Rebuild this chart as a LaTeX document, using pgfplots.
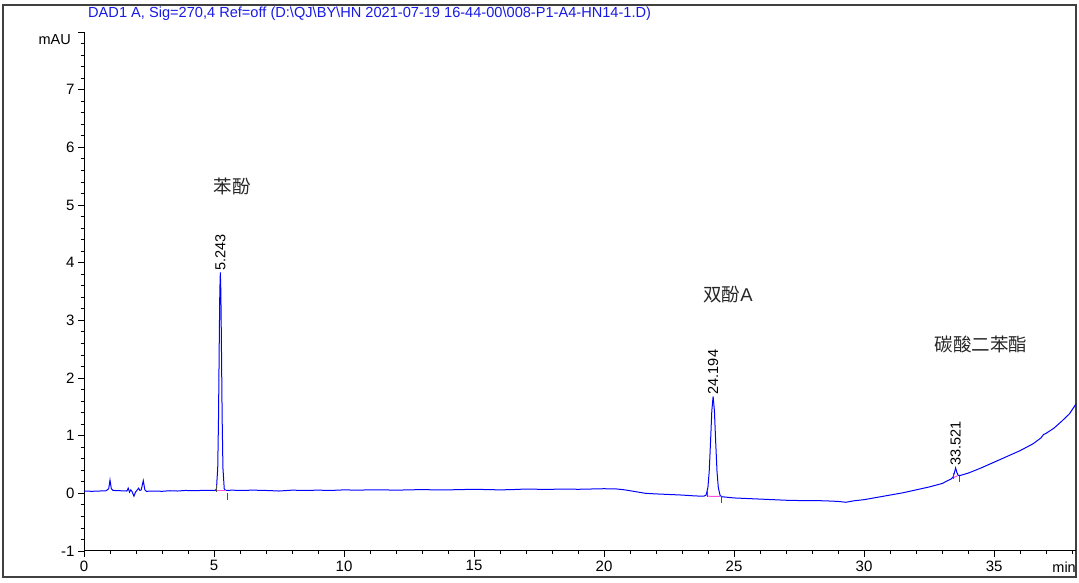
\documentclass[border=0pt]{standalone}
\usepackage{fontspec}
\setmainfont{Liberation Sans}
\newfontfamily\cjk{Noto Sans CJK SC}
\usepackage{pgfplots}
\pgfplotsset{compat=1.18}
\definecolor{titleblue}{RGB}{25,25,230}
\definecolor{trace}{RGB}{0,0,255}
\definecolor{intline}{RGB}{255,80,220}

\pgfplotstableread{
x y
0.0 0.04
0.3 0.035
0.6 0.04
0.85 0.045
0.95 0.08
1.0 0.23
1.05 0.08
1.12 0.05
1.4 0.045
1.65 0.04
1.7 0.09
1.75 0.02
1.8 0.06
1.85 0.03
1.92 -0.05
1.98 0.02
2.05 0.06
2.1 0.09
2.15 0.05
2.2 0.06
2.28 0.22
2.34 0.06
2.4 0.035
2.7 0.04
3.0 0.035
3.3 0.045
3.6 0.04
3.9 0.05
4.2 0.045
4.5 0.05
4.8 0.05
5.043 0.05
5.093 0.07
5.143 0.44
5.173 1.30
5.203 2.68
5.223 3.50
5.243 3.83
5.263 3.50
5.283 2.68
5.313 1.30
5.343 0.44
5.393 0.08
5.443 0.05
5.7 0.055
6.0 0.05
6.5 0.055
7.0 0.05
7.5 0.04
8.0 0.055
8.5 0.05
9.0 0.055
9.5 0.05
10.0 0.06
10.5 0.055
11.0 0.06
11.5 0.06
12.0 0.055
12.5 0.06
13.0 0.065
13.5 0.06
14.0 0.06
14.5 0.065
15.0 0.07
15.5 0.065
16.0 0.06
16.5 0.065
17.0 0.075
17.5 0.07
18.0 0.07
18.5 0.075
19.0 0.07
19.5 0.075
20.0 0.08
20.5 0.075
20.8 0.06
21.2 0.03
21.6 0.0
22.0 -0.01
22.5 -0.02
23.0 -0.03
23.5 -0.045
23.84 -0.05
23.924 -0.03
23.994 0.10
24.044 0.38
24.094 0.88
24.144 1.43
24.194 1.68
24.244 1.43
24.294 0.88
24.344 0.38
24.394 0.10
24.464 -0.04
24.55 -0.06
25.0 -0.08
25.5 -0.09
26.0 -0.10
26.5 -0.11
27.0 -0.12
27.5 -0.125
28.0 -0.125
28.5 -0.13
29.0 -0.14
29.3 -0.155
29.6 -0.13
30.0 -0.11
30.5 -0.07
31.0 -0.03
31.5 0.01
32.0 0.06
32.5 0.11
33.0 0.17
33.35 0.25
33.42 0.28
33.47 0.35
33.52 0.44
33.57 0.36
33.62 0.31
33.7 0.31
34.0 0.35
34.5 0.44
35.0 0.54
35.5 0.64
36.0 0.74
36.5 0.86
36.8 0.96
36.9 1.02
37.0 1.04
37.3 1.13
37.6 1.25
37.9 1.38
38.15 1.55
}\signal

\begin{document}
\begin{tikzpicture}[x=1pt,y=1pt]
\path (0,0) rectangle (1079,583);
\draw[black!75, line width=1.2pt] (3,6) rectangle (1076,578);
\node[anchor=west, inner sep=0, text=titleblue, font=\fontsize{14.6}{15}\selectfont]
  at (88,569) {DAD1 A, Sig=270,4 Ref=off (D:\textbackslash QJ\textbackslash BY\textbackslash HN 2021-07-19 16-44-00\textbackslash 008-P1-A4-HN14-1.D)};
\begin{axis}[
  at={(84pt,32pt)}, anchor=south west,
  scale only axis, width=992pt, height=519pt,
  xmin=0, xmax=38.15, ymin=-1, ymax=8,
  axis x line=bottom, axis y line=left,
  axis line style={-, line width=1pt, black},
  tick align=outside,
  major tick length=6pt, minor tick length=3.5pt,
  tick style={black, line width=0.8pt},
  xtick={0,5,...,40}, xticklabels={0,5,10,15,20,25,30,35},
  ytick={-1,0,...,8}, yticklabels={-1,0,1,2,3,4,5,6,7,},
  minor x tick num=4, minor y tick num=4,
  ticklabel style={font=\fontsize{15}{15}\selectfont, text=black},
  clip=false,
]
\addplot[trace, line width=1pt] table[x=x, y=y] {\signal};
% integration baselines
\addplot[intline, line width=1pt] coordinates {(5.12,0.045) (5.46,0.045)};
\addplot[intline, line width=1pt] coordinates {(24.0,-0.05) (24.45,-0.055)};
\addplot[intline, line width=1pt] coordinates {(33.42,0.27) (33.62,0.31)};
\addplot[black!70, line width=0.7pt, unbounded coords=jump] coordinates {
  (5.1,0.03) (5.1,0.14) (nan,nan) (5.52,0.0) (5.52,-0.11) (nan,nan)
  (23.98,-0.06) (23.98,0.05) (nan,nan) (24.5,-0.05) (24.5,-0.16) (nan,nan)
  (33.42,0.25) (33.42,0.36) (nan,nan) (33.65,0.3) (33.65,0.19)};
% retention times
\node[rotate=90, anchor=west, inner sep=2pt, font=\fontsize{14.5}{14.5}\selectfont] at (axis cs:5.243,3.83) {5.243};
\node[rotate=90, anchor=west, inner sep=2pt, font=\fontsize{14.5}{14.5}\selectfont] at (axis cs:24.194,1.68) {24.194};
\node[rotate=90, anchor=west, inner sep=2pt, font=\fontsize{14.5}{14.5}\selectfont] at (axis cs:33.521,0.44) {33.521};
% compound names
\node[text=black!85, font=\cjk\fontsize{18.5}{18.5}\selectfont] at (axis cs:5.7,5.33) {苯酚};
\node[text=black!85, font=\cjk\fontsize{18.5}{18.5}\selectfont] at (axis cs:24.77,3.45) {双酚\fontspec{Liberation Sans}A};
\node[text=black!85, font=\cjk\fontsize{18.5}{18.5}\selectfont] at (axis cs:34.5,2.58) {碳酸二苯酯};
% units
\node[anchor=east, inner sep=0, font=\fontsize{14.5}{14.5}\selectfont] at ([xshift=-13pt, yshift=-8pt]rel axis cs:0,1) {mAU};
\node[anchor=east, inner sep=0, font=\fontsize{14.5}{14.5}\selectfont] at ([yshift=-16pt]rel axis cs:1,0) {min};
\end{axis}
\end{tikzpicture}
\end{document}
